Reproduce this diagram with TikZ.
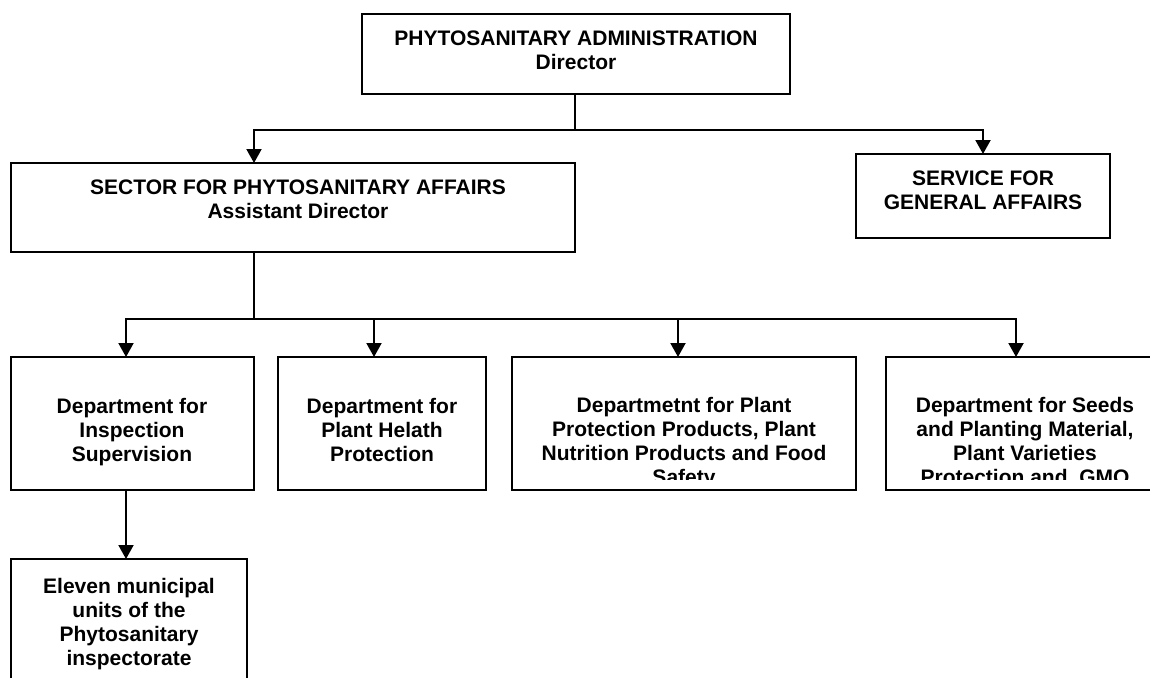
\documentclass[tikz,border=0pt]{standalone}
\usepackage{fontspec}
\setmainfont{Liberation Sans}
\usetikzlibrary{arrows.meta}
\begin{document}
\begin{tikzpicture}[x=1pt,y=-1pt,
  box/.style={draw=black, line width=2pt, rectangle, inner sep=0pt, outer sep=0pt, anchor=north west},
  txt/.style={align=center, inner sep=0pt, anchor=base, font=\fontsize{21}{24}\selectfont\bfseries},
  conn/.style={line width=2pt, line cap=rect},
  arr/.style={line width=2pt, -{Triangle[width=15pt,length=14pt]}}]
\clip (0,0) rectangle (1150,677);
\fill[white] (0,0) rectangle (1150,677);
% boxes
\node[box, minimum width=428pt, minimum height=80pt] (top) at (362,14) {};
\node[box, minimum width=564pt, minimum height=89pt] (sector) at (11,163) {};
\node[box, minimum width=254pt, minimum height=84pt] (service) at (856,154) {};
\node[box, minimum width=243pt, minimum height=133pt] (d1) at (11,357) {};
\node[box, minimum width=208pt, minimum height=133pt] (d2) at (278,357) {};
\node[box, minimum width=344pt, minimum height=133pt] (d3) at (512,357) {};
\node[box, minimum width=278pt, minimum height=133pt] (d4) at (886,357) {};
\node[box, minimum width=236pt, minimum height=141pt] (d5) at (11,559) {};
% texts (anchor base = baseline of last line)
\node[txt] (ttop) at (576,70) {PHYTOSANITARY ADMINISTRATION\\Director};
\node[txt] (tsector) at (298,218) {SECTOR FOR PHYTOSANITARY AFFAIRS\\Assistant Director};
\node[txt] (tservice) at (983,209) {SERVICE FOR\\GENERAL AFFAIRS};
\node[txt] (td1) at (132,461) {Department for\\Inspection\\Supervision};
\node[txt] (td2) at (382,461) {Department for\\Plant Helath\\Protection};
\begin{scope}
\clip (512,357) rectangle (856,479);
\node[txt] (td3) at (684,484) {Departmetnt for Plant\\Protection Products, Plant\\Nutrition Products and Food\\Safety};
\end{scope}
\begin{scope}
\clip (886,357) rectangle (1164,479);
\node[txt] (td4) at (1025,484) {Department for Seeds\\and Planting Material,\\Plant Varieties\\Protection and\ \ GMO};
\end{scope}
\node[txt] (td5) at (129,665) {Eleven municipal\\units of the\\Phytosanitary\\inspectorate};
% connectors
\coordinate (j0) at (575,130);
\coordinate (jl) at (254,130);
\coordinate (jr) at (983,130);
\draw[conn] (j0 |- top.south) -- (j0);
\draw[conn] (jl) -- (jr);
\draw[arr] (jl) -- (jl |- sector.north);
\draw[arr] (jr) -- (jr |- service.north);
\coordinate (k0) at (254,319);
\coordinate (k1) at (126,319);
\coordinate (k2) at (374,319);
\coordinate (k3) at (678,319);
\coordinate (k4) at (1016,319);
\draw[conn] (k0 |- sector.south) -- (k0);
\draw[conn] (k1) -- (k4);
\draw[arr] (k1) -- (k1 |- d1.north);
\draw[arr] (k2) -- (k2 |- d2.north);
\draw[arr] (k3) -- (k3 |- d3.north);
\draw[arr] (k4) -- (k4 |- d4.north);
\draw[arr] (k1 |- d1.south) -- (k1 |- d5.north);
\end{tikzpicture}
\end{document}
